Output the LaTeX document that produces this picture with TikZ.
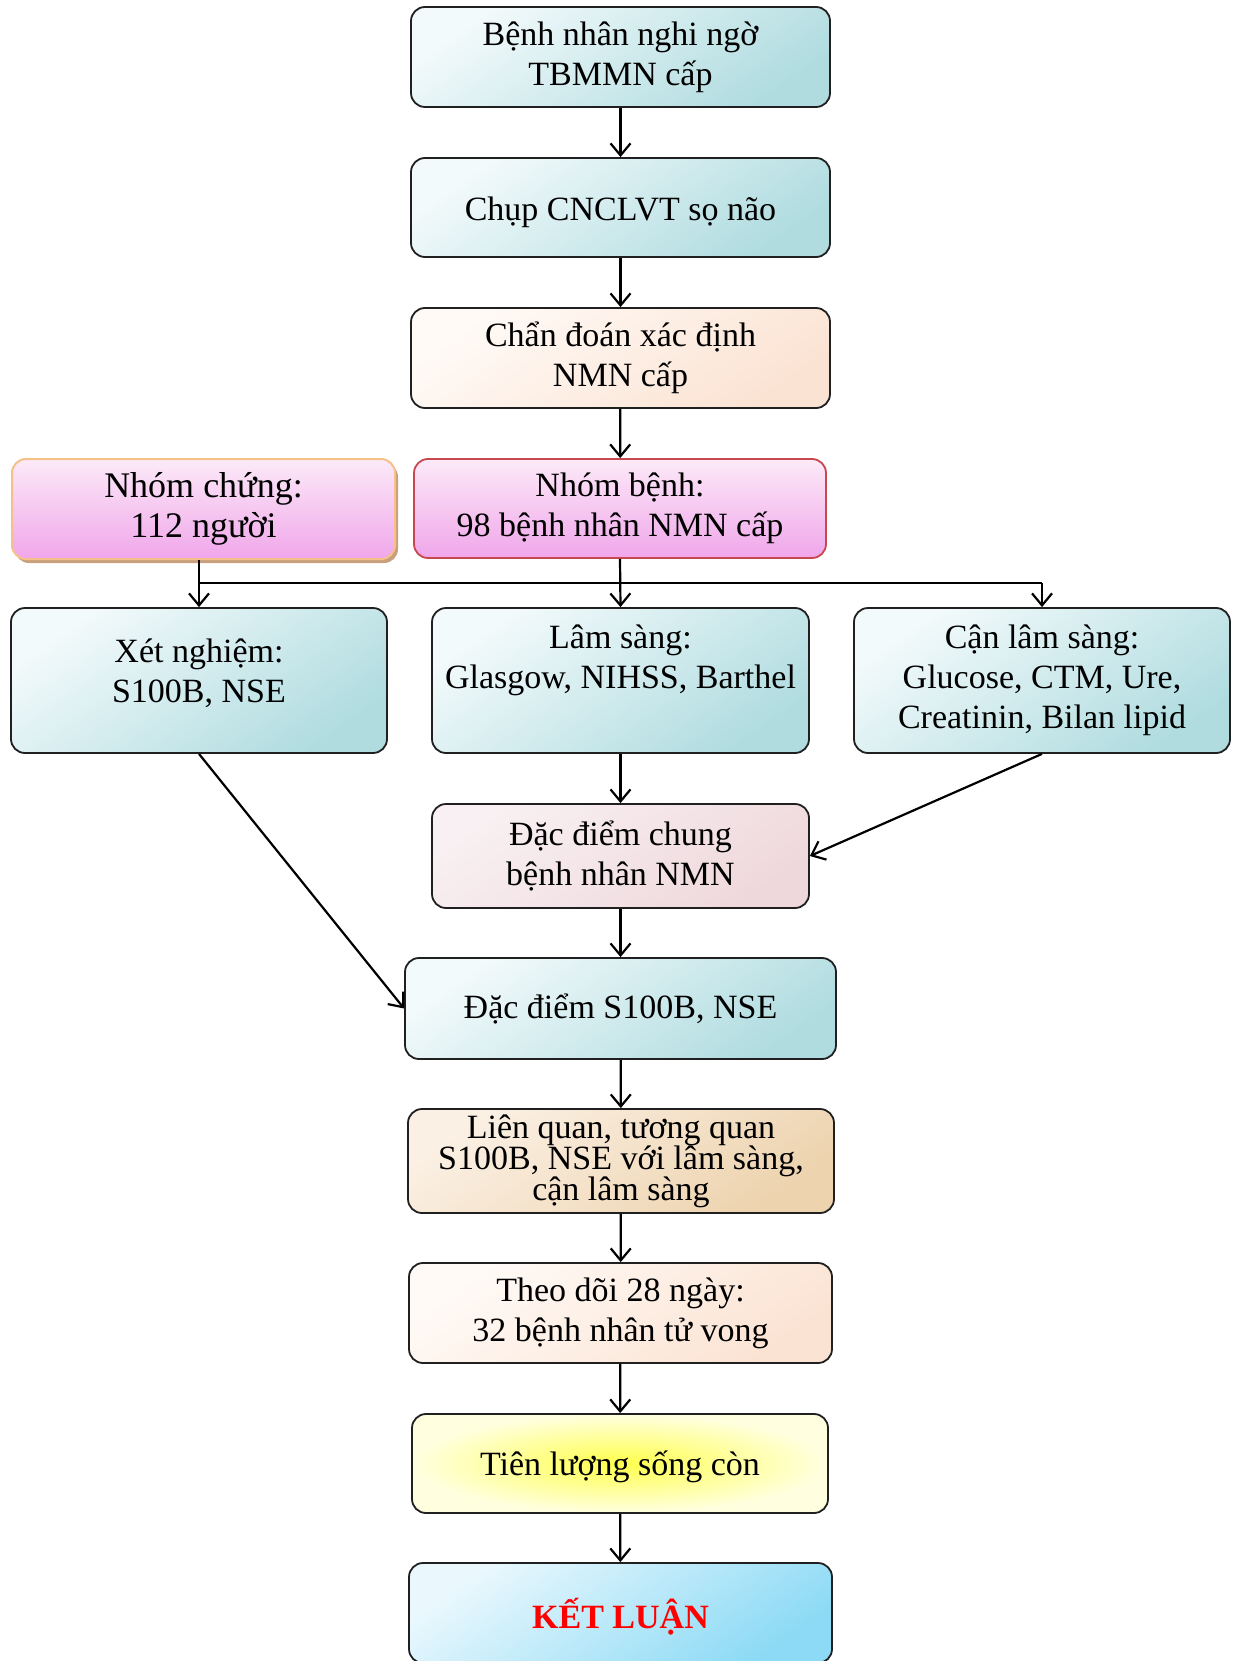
\documentclass[tikz,border=0pt]{standalone}
\usepackage{fontspec}
\setmainfont{Liberation Serif}
\usetikzlibrary{arrows.meta,shadows}
\definecolor{tealA}{HTML}{F3FAFB}
\definecolor{tealB}{HTML}{B0DCE0}
\definecolor{peachA}{HTML}{FFFAF6}
\definecolor{peachB}{HTML}{FBE3D3}
\definecolor{pinkA}{HTML}{FCEAF8}
\definecolor{pinkB}{HTML}{F0A6EA}
\definecolor{roseA}{HTML}{F8F0F2}
\definecolor{roseB}{HTML}{EFD8DC}
\definecolor{tanA}{HTML}{FBF0E4}
\definecolor{tanB}{HTML}{EDD3AE}
\definecolor{cyanA}{HTML}{EAF8FD}
\definecolor{cyanB}{HTML}{8CDAF5}
\definecolor{orangeB}{HTML}{F5C08A}
\definecolor{redB}{HTML}{C8484F}
\definecolor{shadowB}{HTML}{C9A07E}
\definecolor{edge}{HTML}{202020}
\begin{document}
\begin{tikzpicture}[x=1pt,y=-1pt,
  box/.style={draw=edge,line width=1.8pt,rounded corners=14pt,inner sep=4pt,align=center,
    font=\fontsize{34}{40}\selectfont},
  tealbox/.style={box,top color=tealA,bottom color=tealB,shading angle=35},
  peachbox/.style={box,top color=peachA,bottom color=peachB,shading angle=35},
  txt/.style={align=center,font=\fontsize{34}{40}\selectfont,inner sep=0pt},
  arr/.style={line width=2.2pt,-{Straight Barb[length=12pt,width=20pt]}},
  ln/.style={line width=2.6pt}
]
\useasboundingbox (0,0) rectangle (1238,1661);
\begin{scope}
\clip (0,0) rectangle (1238,1661);
\node[tealbox,minimum width=419pt,minimum height=100pt] (b1) at (620.5,57) {Bệnh nhân nghi ngờ\\TBMMN cấp};
\node[tealbox,minimum width=419pt,minimum height=99pt] (b2) at (620.5,207.5) {};
\node[txt] (b2t) at (620.5,212) {Chụp CNCLVT sọ não};
\node[peachbox,minimum width=419pt,minimum height=100pt] (b3) at (620.5,358) {Chẩn đoán xác định\\NMN cấp};
\node[box,draw=orangeB,line width=2pt,top color=pinkA,bottom color=pinkB,
  drop shadow={shadow xshift=3pt,shadow yshift=-4pt,fill=shadowB,opacity=1},
  minimum width=383pt,minimum height=100pt,font=\fontsize{36}{40}\selectfont] (chung) at (203.5,509) {Nhóm chứng:\\112 người};
\node[box,draw=redB,top color=pinkA,bottom color=pinkB,minimum width=412pt,minimum height=99pt] (benh) at (620,508.5) {Nhóm bệnh:\\98 bệnh nhân NMN cấp};
\node[tealbox,minimum width=376pt,minimum height=145pt] (xn) at (199,680.5) {};
\node[txt] (xnt) at (199,673) {Xét nghiệm:\\S100B, NSE};
\node[tealbox,minimum width=377pt,minimum height=145pt] (ls) at (620.5,680.5) {};
\node[txt] (lst) at (620.5,660) {Lâm sàng:\\Glasgow, NIHSS, Barthel};
\node[tealbox,minimum width=376pt,minimum height=145pt] (cls) at (1042,680.5) {Cận lâm sàng:\\Glucose, CTM, Ure,\\Creatinin, Bilan lipid};
\node[box,top color=roseA,bottom color=roseB,shading angle=35,minimum width=377pt,minimum height=104pt] (dd) at (620.5,856) {Đặc điểm chung\\bệnh nhân NMN};
\node[tealbox,minimum width=431pt,minimum height=101pt] (s100) at (620.5,1008.5) {Đặc điểm S100B, NSE};
\node[box,top color=tanA,bottom color=tanB,shading angle=35,minimum width=426pt,minimum height=104pt,
  font=\fontsize{34}{31}\selectfont] (lq) at (621,1161) {Liên quan, tương quan\\S100B, NSE với lâm sàng,\\cận lâm sàng};
\node[peachbox,minimum width=423pt,minimum height=100pt] (td) at (620.5,1313) {Theo dõi 28 ngày:\\32 bệnh nhân tử vong};
\node[box,inner color=yellow!70,outer color=yellow!12,minimum width=416pt,minimum height=99pt] (tl) at (620,1463.5) {};
\node[txt] (tlt) at (620,1467) {Tiên lượng sống còn};
\node[box,top color=cyanA,bottom color=cyanB,shading angle=35,minimum width=423pt,minimum height=100pt] (kl) at (620.5,1613) {};
\node[txt,text=red,font=\fontsize{34}{40}\selectfont\bfseries] (klt) at (620.5,1617) {KẾT LUẬN};
\end{scope}
\draw[arr] (b1) -- (b2);
\draw[arr] (b2) -- (b3);
\draw[arr] (b3) -- (benh);
\coordinate (hl) at (199,583);
\coordinate (hr) at (1042,583);
\draw[arr] (xn.north |- chung.south) -- (xn.north);
\draw[arr] (benh.south) -- (ls.north);
\draw[ln] (hl) -- (hr);
\draw[arr] (hr) -- (cls.north);
\draw[arr] (ls) -- (dd);
\draw[arr] (cls.south) -- (dd.east);
\draw[arr] (xn.south) -- (s100.west);
\draw[arr] (dd) -- (s100);
\draw[arr] (s100) -- (lq);
\draw[arr] (lq) -- (td);
\draw[arr] (td) -- (tl);
\draw[arr] (tl) -- (kl);
\end{tikzpicture}
\end{document}
